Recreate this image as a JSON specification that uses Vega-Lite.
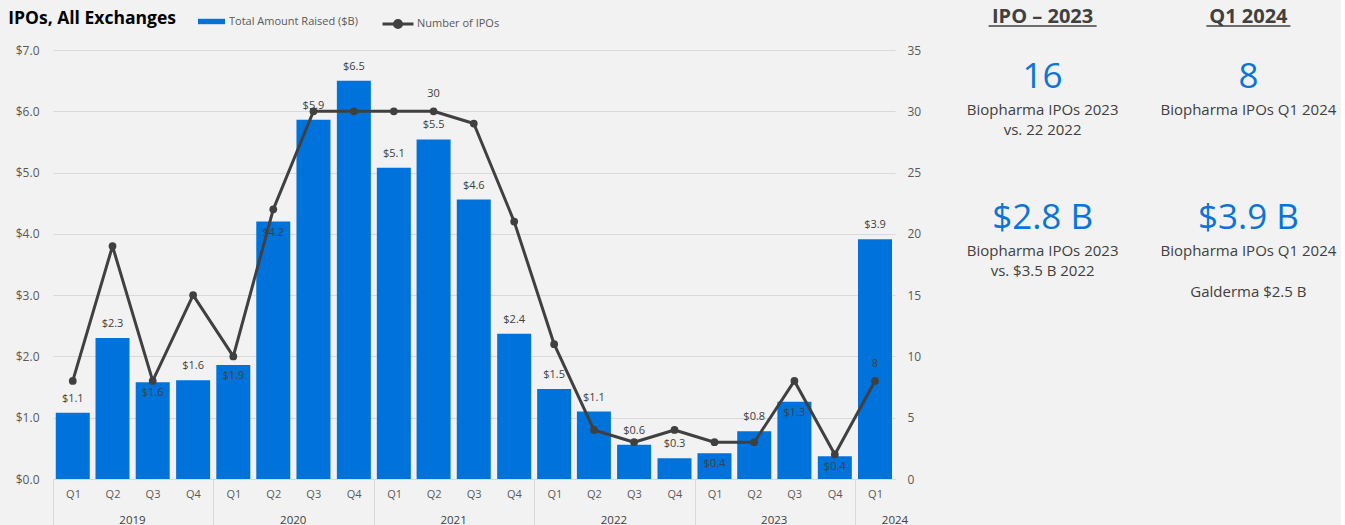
{
  "$schema": "https://vega.github.io/schema/vega-lite/v6.json",
  "background": "#f2f2f2",
  "padding": {"left": 8, "top": 7, "right": 0, "bottom": 0},
  "title": {"text": "IPOs, All Exchanges", "anchor": "start", "fontSize": 17.5, "font": "Open Sans", "fontWeight": "bold", "color": "#000000", "dx": -7, "dy": 20, "offset": 0},
  "datasets": {
    "ipo": [
      {"year": 2019, "quarter": "Q1", "date": "2019-01-01", "amount": 1.08, "ipos": 8},
      {"year": 2019, "quarter": "Q2", "date": "2019-04-01", "amount": 2.30, "ipos": 19},
      {"year": 2019, "quarter": "Q3", "date": "2019-07-01", "amount": 1.58, "ipos": 8},
      {"year": 2019, "quarter": "Q4", "date": "2019-10-01", "amount": 1.61, "ipos": 15},
      {"year": 2020, "quarter": "Q1", "date": "2020-01-01", "amount": 1.86, "ipos": 10},
      {"year": 2020, "quarter": "Q2", "date": "2020-04-01", "amount": 4.20, "ipos": 22},
      {"year": 2020, "quarter": "Q3", "date": "2020-07-01", "amount": 5.86, "ipos": 30},
      {"year": 2020, "quarter": "Q4", "date": "2020-10-01", "amount": 6.50, "ipos": 30},
      {"year": 2021, "quarter": "Q1", "date": "2021-01-01", "amount": 5.08, "ipos": 30},
      {"year": 2021, "quarter": "Q2", "date": "2021-04-01", "amount": 5.54, "ipos": 30},
      {"year": 2021, "quarter": "Q3", "date": "2021-07-01", "amount": 4.56, "ipos": 29},
      {"year": 2021, "quarter": "Q4", "date": "2021-10-01", "amount": 2.37, "ipos": 21},
      {"year": 2022, "quarter": "Q1", "date": "2022-01-01", "amount": 1.47, "ipos": 11},
      {"year": 2022, "quarter": "Q2", "date": "2022-04-01", "amount": 1.10, "ipos": 4},
      {"year": 2022, "quarter": "Q3", "date": "2022-07-01", "amount": 0.56, "ipos": 3},
      {"year": 2022, "quarter": "Q4", "date": "2022-10-01", "amount": 0.34, "ipos": 4},
      {"year": 2023, "quarter": "Q1", "date": "2023-01-01", "amount": 0.42, "ipos": 3},
      {"year": 2023, "quarter": "Q2", "date": "2023-04-01", "amount": 0.78, "ipos": 3},
      {"year": 2023, "quarter": "Q3", "date": "2023-07-01", "amount": 1.26, "ipos": 8},
      {"year": 2023, "quarter": "Q4", "date": "2023-10-01", "amount": 0.37, "ipos": 2},
      {"year": 2024, "quarter": "Q1", "date": "2024-01-01", "amount": 3.91, "ipos": 8}
    ],
    "panel": [
      {"col": "IPO – 2023", "block": "count", "value": "16", "caption": ["Biopharma IPOs 2023", "vs. 22 2022"], "note": null},
      {"col": "Q1 2024", "block": "count", "value": "8", "caption": ["Biopharma IPOs Q1 2024"], "note": null},
      {"col": "IPO – 2023", "block": "amount", "value": "$2.8 B", "caption": ["Biopharma IPOs 2023", "vs. $3.5 B 2022"], "note": null},
      {"col": "Q1 2024", "block": "amount", "value": "$3.9 B", "caption": ["Biopharma IPOs Q1 2024"], "note": "Galderma $2.5 B"}
    ]
  },
  "hconcat": [
    {
      "width": 842,
      "height": 429,
      "data": {"name": "ipo", "format": {"parse": {"date": "date"}}},
      "encoding": {
        "x": {
          "field": "date", "type": "temporal", "timeUnit": "utcyearquarter", "title": null, "bandPosition": 0.5,
          "scale": {"type": "utc", "domain": [{"year": 2019, "month": 1, "date": 1, "utc": true}, {"year": 2024, "month": 4, "date": 1, "utc": true}], "nice": false},
          "axis": {
            "tickCount": {"interval": "month", "step": 3},
            "labelExpr": "utcyear(datum.value) > 2023 && utcquarter(datum.value) > 1 ? '' : 'Q' + utcquarter(datum.value)",
            "labelOffset": 20, "labelAlign": "center", "labelFlush": false, "labelOverlap": false, "labelBound": false,
            "labelPadding": -37, "labelFontSize": 11, "labelColor": "#595959",
            "domain": true, "domainColor": "#d9d9d9", "domainWidth": 1, "grid": false,
            "ticks": true, "tickSize": 46, "tickWidth": 1, "tickColor": "#d9d9d9",
            "tickOpacity": {"condition": {"test": "utcquarter(datum.value) == 1", "value": 1}, "value": 0}
          }
        }
      },
      "layer": [
        {
          "encoding": {
            "y": {
              "field": "amount", "type": "quantitative", "title": null,
              "scale": {"domain": [0, 7], "nice": false},
              "axis": {"orient": "left", "values": [0, 1, 2, 3, 4, 5, 6, 7], "format": "$.1f", "grid": true, "gridColor": "#d9d9d9", "gridWidth": 1, "labelPadding": 14, "labelFontSize": 12, "labelColor": "#595959", "ticks": false, "tickSize": 0}
            }
          },
          "layer": [
            {
              "mark": {"type": "bar", "width": 34},
              "encoding": {
                "fill": {"datum": "Total Amount Raised ($B)", "scale": {"range": ["#0072db"]},
                  "legend": {"orient": "none", "legendX": 145, "legendY": -42, "title": null, "symbolType": "M-1,-0.2H1V0.2H-1Z", "symbolSize": 729, "symbolStrokeWidth": 0, "labelOffset": 4, "labelFontSize": 11, "labelColor": "#595959", "padding": 0}}
              }
            },
            {
              "transform": [{"filter": "!((datum.year == 2019 && datum.quarter == 'Q3') || (datum.year == 2020 && datum.quarter == 'Q1') || (datum.year == 2020 && datum.quarter == 'Q2') || (datum.year == 2023 && datum.quarter == 'Q1') || (datum.year == 2023 && datum.quarter == 'Q3') || (datum.year == 2023 && datum.quarter == 'Q4'))"}],
              "mark": {"type": "text", "baseline": "middle", "dy": -14, "fontSize": 11, "color": "#404040"},
              "encoding": {"text": {"field": "amount", "type": "quantitative", "format": "$.1f"}}
            },
            {
              "transform": [{"filter": "(datum.year == 2019 && datum.quarter == 'Q3') || (datum.year == 2020 && datum.quarter == 'Q1') || (datum.year == 2020 && datum.quarter == 'Q2') || (datum.year == 2023 && datum.quarter == 'Q1') || (datum.year == 2023 && datum.quarter == 'Q3') || (datum.year == 2023 && datum.quarter == 'Q4')"}],
              "mark": {"type": "text", "baseline": "middle", "dy": 11, "fontSize": 11, "color": "#404040"},
              "encoding": {"text": {"field": "amount", "type": "quantitative", "format": "$.1f"}}
            }
          ]
        },
        {
          "encoding": {
            "y": {
              "field": "ipos", "type": "quantitative", "title": null,
              "scale": {"domain": [0, 35], "nice": false},
              "axis": {"orient": "right", "values": [0, 5, 10, 15, 20, 25, 30, 35], "grid": false, "labelPadding": 12, "labelFontSize": 12, "labelColor": "#595959", "ticks": false, "tickSize": 0}
            }
          },
          "layer": [
            {
              "mark": {"type": "line", "strokeWidth": 3, "strokeJoin": "round"},
              "encoding": {
                "stroke": {"datum": "Number of IPOs", "scale": {"range": ["#404040"]},
                  "legend": {"orient": "none", "legendX": 328, "legendY": -43, "title": null, "symbolType": "M-1,0H1M0.23,0A0.23,0.23,0,1,1,-0.23,0A0.23,0.23,0,1,1,0.23,0", "symbolSize": 961, "symbolStrokeWidth": 3, "symbolFillColor": "#404040", "labelOffset": 2, "labelFontSize": 11, "labelColor": "#595959", "padding": 0}}
              }
            },
            {
              "mark": {"type": "point", "filled": true, "size": 60, "color": "#404040", "opacity": 1}
            },
            {
              "transform": [{"filter": "(datum.year == 2021 && datum.quarter == 'Q2') || (datum.year == 2024 && datum.quarter == 'Q1')"}],
              "mark": {"type": "text", "baseline": "middle", "dy": -17, "fontSize": 11, "color": "#404040"},
              "encoding": {"text": {"field": "ipos", "type": "quantitative"}}
            }
          ]
        },
        {
          "transform": [{"aggregate": [{"op": "mean", "field": "date", "as": "mid"}], "groupby": ["year"]}],
          "mark": {"type": "text", "y": "height", "dy": 42, "dx": 20, "baseline": "middle", "fontSize": 11.5, "color": "#404040"},
          "encoding": {
            "x": {"field": "mid", "type": "temporal", "title": null},
            "text": {"field": "year", "type": "nominal"}
          }
        }
      ],
      "resolve": {"scale": {"y": "independent"}}
    },
    {
      "width": 391,
      "height": 195,
      "data": {"name": "panel"},
      "encoding": {
        "x": {"field": "col", "type": "nominal", "scale": {"type": "point", "padding": 0.45, "domain": ["IPO – 2023", "Q1 2024"]}, "axis": null},
        "y": {"field": "block", "type": "nominal", "scale": {"type": "point", "padding": 0.1915, "domain": ["count", "amount"]}, "axis": null}
      },
      "layer": [
        {
          "transform": [{"filter": "datum.block == 'count'"}],
          "mark": {"type": "text", "dy": -60, "fontSize": 20, "fontWeight": "bold", "color": "#404040", "baseline": "middle"},
          "encoding": {"text": {"field": "col", "type": "nominal"}}
        },
        {
          "transform": [{"filter": "datum.block == 'count'"}],
          "mark": {"type": "rule", "yOffset": -51, "y2Offset": -51, "xOffset": {"expr": "datum.col == 'Q1 2024' ? -42 : -54"}, "x2Offset": {"expr": "datum.col == 'Q1 2024' ? 42 : 54"}, "color": "#404040", "strokeWidth": 1.5},
          "encoding": {"x2": {"field": "col"}, "y2": {"field": "block"}}
        },
        {
          "mark": {"type": "text", "fontSize": 35, "color": "#0c74d6", "baseline": "middle"},
          "encoding": {"text": {"field": "value", "type": "nominal"}}
        },
        {
          "mark": {"type": "text", "fontSize": 15, "color": "#404040", "baseline": "top", "dy": 26, "lineHeight": 20},
          "encoding": {"text": {"field": "caption", "type": "nominal"}}
        },
        {
          "transform": [{"filter": "isValid(datum.note)"}],
          "mark": {"type": "text", "fontSize": 15, "color": "#404040", "baseline": "top", "dy": 67},
          "encoding": {"text": {"field": "note", "type": "nominal"}}
        }
      ]
    }
  ],
  "spacing": 29,
  "config": {
    "font": "Open Sans",
    "view": {"stroke": null},
    "axis": {"labelFont": "Open Sans", "domain": false},
    "legend": {"labelFont": "Open Sans"},
    "text": {"font": "Open Sans"}
  }
}
